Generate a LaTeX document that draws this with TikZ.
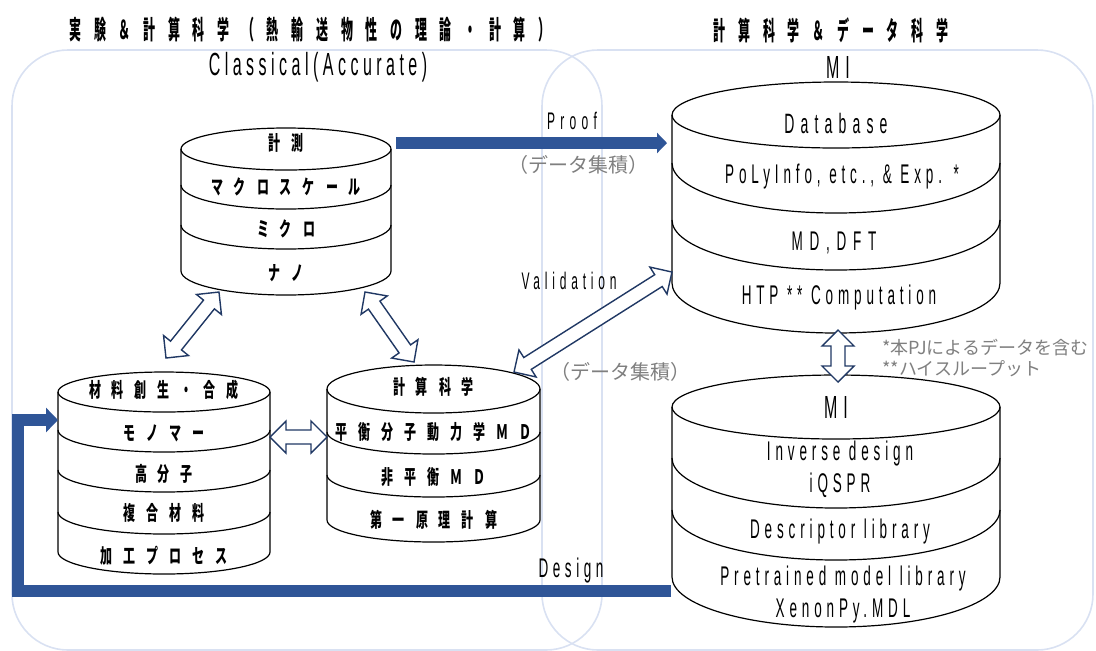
\documentclass[tikz,border=0pt]{standalone}
\usepackage{fontspec}
\usetikzlibrary{arrows.meta,calc}
\newfontfamily\jpcond[FakeStretch=0.6]{Noto Sans CJK JP}
\newfontfamily\jptitle[FakeStretch=0.46]{Noto Sans CJK JP}
\newfontfamily\jpplain{Noto Sans CJK JP}
\newfontfamily\latcond[FakeStretch=0.5]{Liberation Sans}
\definecolor{flowblue}{HTML}{2F5597}
\definecolor{hollowblue}{HTML}{203864}
\definecolor{panelline}{HTML}{D9E1F2}
\definecolor{notegray}{HTML}{7F7F7F}
\tikzset{cylline/.style={draw=black,line width=0.6pt},
    panel/.style={draw=panelline,line width=0.8pt,rounded corners=28pt},
    flow/.style={draw=flowblue,line width=6pt,line join=miter},
    hollow/.style={draw=hollowblue,fill=white,line width=0.7pt,line join=miter},
    titletxt/.style={inner sep=0,font=\jptitle\bfseries\fontsize{13}{15}\selectfont\addfontfeatures{LetterSpace=49}},
    jptxt/.style={inner sep=0,font=\jpcond\bfseries\fontsize{10}{12}\selectfont\addfontfeatures{LetterSpace=55}},
    lattxt/.style={inner sep=0,align=center,font=\latcond\fontsize{13.5}{16}\selectfont\addfontfeatures{LetterSpace=18}},
    latbig/.style={inner sep=0,font=\latcond\fontsize{16}{18}\selectfont\addfontfeatures{LetterSpace=14}},
    graytxt/.style={inner sep=0,text=notegray,font=\jpplain\fontsize{10}{12}\selectfont}}

% hollow double arrow between two named points
\newcommand\hollowarrow[2]{%
  \path let \p1=($(#2)-(#1)$) in
    \pgfextra{\pgfmathsetmacro\harrang{atan2(\y1,\x1)}\pgfmathsetmacro\harrlen{veclen(\x1,\y1)}%
      \xdef\harrang{\harrang}\xdef\harrlen{\harrlen}};
  \draw[hollow,shift={(#1)},rotate=\harrang] (0pt,0pt) -- (8pt,8pt) -- (8pt,3.5pt)
    -- (\harrlen pt-8pt,3.5pt) -- (\harrlen pt-8pt,8pt) -- (\harrlen pt,0pt)
    -- (\harrlen pt-8pt,-8pt) -- (\harrlen pt-8pt,-3.5pt) -- (8pt,-3.5pt) -- (8pt,-8pt) -- cycle;
}

\begin{document}
\begin{tikzpicture}[x=0.5pt,y=-0.5pt]
\useasboundingbox (0,0) rectangle (1096,650);

\draw [panel] (12,50) rectangle (602,650);
\draw [panel] (542,50) rectangle (1093,650);

\node (tL) [titletxt] at (310,30) {実験＆計算科学（熱輸送物性の理論・計算）};
\node (tR) [titletxt] at (831,30) {計算科学＆データ科学};
\node (lbClassical) [latbig] at (318,67) {Classical(Accurate)};
\node (lbMItop) [latbig] at (838,67) {M\hspace{3pt}I};

% measurement stack
\draw [cylline] (286,149) ellipse [x radius=52.5pt,y radius=10.5pt];
\draw [cylline] (181,149) -- (181,271) arc [start angle=180,end angle=360,x radius=52.5pt,y radius=12pt] -- (391,149);
\foreach \y in {185,225}
  \draw [cylline] (181,\y) arc [start angle=180,end angle=360,x radius=52.5pt,y radius=12pt];
\node (a1) [jptxt] at (286,143) {計測};
\node (a2) [jptxt] at (286,187) {マクロスケール};
\node (a3) [jptxt] at (286,229) {ミクロ};
\node (a4) [jptxt] at (286,273) {ナノ};

% materials stack
\draw [cylline] (164,392) ellipse [x radius=53pt,y radius=10pt];
\draw [cylline] (58,392) -- (58,552) arc [start angle=180,end angle=360,x radius=53pt,y radius=11pt] -- (270,392);
\foreach \y in {430,470,512}
  \draw [cylline] (58,\y) arc [start angle=180,end angle=360,x radius=53pt,y radius=11pt];
\node (b1) [jptxt] at (164,390) {材料創生・合成};
\node (b2) [jptxt] at (164,433) {モノマー};
\node (b3) [jptxt] at (164,474) {高分子};
\node (b4) [jptxt] at (164,513) {複合材料};
\node (b5) [jptxt] at (164,556) {加工プロセス};

% simulation stack
\draw [cylline] (433.5,389) ellipse [x radius=53.25pt,y radius=12pt];
\draw [cylline] (327,389) -- (327,520) arc [start angle=180,end angle=360,x radius=53.25pt,y radius=11pt] -- (540,389);
\foreach \y in {432,475}
  \draw [cylline] (327,\y) arc [start angle=180,end angle=360,x radius=53.25pt,y radius=11pt];
\node (c1) [jptxt] at (433.5,387) {計算科学};
\node (c2) [jptxt] at (433.5,432) {平衡分子動力学ＭＤ};
\node (c3) [jptxt] at (433.5,477) {非平衡ＭＤ};
\node (c4) [jptxt] at (433.5,520) {第一原理計算};

% database stack
\draw [cylline] (836,115) ellipse [x radius=82pt,y radius=16.5pt];
\draw [cylline] (672,115) -- (672,283) arc [start angle=180,end angle=360,x radius=82pt,y radius=25pt] -- (1000,115);
\foreach \y in {163,220}
  \draw [cylline] (672,\y) arc [start angle=180,end angle=360,x radius=82pt,y radius=25pt];
\node (d1) [lattxt,font=\latcond\fontsize{14}{16}\selectfont\addfontfeatures{LetterSpace=22}] at (836,123) {Database};
\node (d2) [lattxt] at (842,177) {PoLyInfo, etc., \& Exp. *};
\node (d3) [lattxt,font=\latcond\fontsize{13.5}{16}\selectfont\addfontfeatures{LetterSpace=25}] at (834,243) {MD,DFT};
\node (d4) [lattxt] at (839,298) {HTP ** Computation};

% MI stack
\draw [cylline] (836,407) ellipse [x radius=82pt,y radius=16pt];
\draw [cylline] (672,407) -- (672,577) arc [start angle=180,end angle=360,x radius=82pt,y radius=25pt] -- (1000,407);
\foreach \y in {458,510}
  \draw [cylline] (672,\y) arc [start angle=180,end angle=360,x radius=82pt,y radius=25pt];
\node (e1) [latbig] at (836,407) {M\hspace{3pt}I};
\node (e2) [lattxt] at (840,469) {Inverse design\\iQSPR};
\node (e3) [lattxt] at (840,532) {Descriptor library};
\node (e4) [lattxt] at (843,594) {Pretrained model library\\XenonPy.MDL};

% flows
\coordinate (pS) at (396,143);
\coordinate (pE) at (667,143);
\draw [flow,-{Triangle[length=5pt,width=10pt]}] (pS) -- (pE);
\node (lbProof) [lattxt,font=\latcond\fontsize{12}{14}\selectfont\addfontfeatures{LetterSpace=22}] at (572,121) {Proof};
\node (lbProofData) [graytxt] at (578,165) {（データ集積）};

\coordinate (dS) at (671,591);
\coordinate (dC) at (18,420);
\coordinate (dE) at (58,420);
\draw [flow,-{Triangle[length=6pt,width=12pt]}] (dS) -| (dC) -- (dE);
\node (lbDesign) [lattxt,font=\latcond\fontsize{13.5}{16}\selectfont\addfontfeatures{LetterSpace=17}] at (571,571) {Design};

\coordinate (hA1) at (166,358);
\coordinate (hA2) at (219,292);
\coordinate (hB1) at (365,292);
\coordinate (hB2) at (414,362);
\coordinate (hC1) at (270,437);
\coordinate (hC2) at (327,437);
\coordinate (hV1) at (514,372);
\coordinate (hV2) at (672,272);
\coordinate (hD1) at (838,330);
\coordinate (hD2) at (838,382);
\hollowarrow{hA1}{hA2}
\hollowarrow{hB1}{hB2}
\hollowarrow{hC1}{hC2}
\hollowarrow{hV1}{hV2}
\hollowarrow{hD1}{hD2}
\node (lbValid) [lattxt,font=\latcond\fontsize{12}{14}\selectfont\addfontfeatures{LetterSpace=20}] at (569,281) {Validation};
\node (lbValidData) [graytxt] at (620,372) {（データ集積）};

\node (note) [graytxt,anchor=west,align=left,font=\jpplain\fontsize{9}{10.5}\selectfont] at (882,358) {*本PJによるデータを含む\\**ハイスループット};

\end{tikzpicture}
\end{document}
